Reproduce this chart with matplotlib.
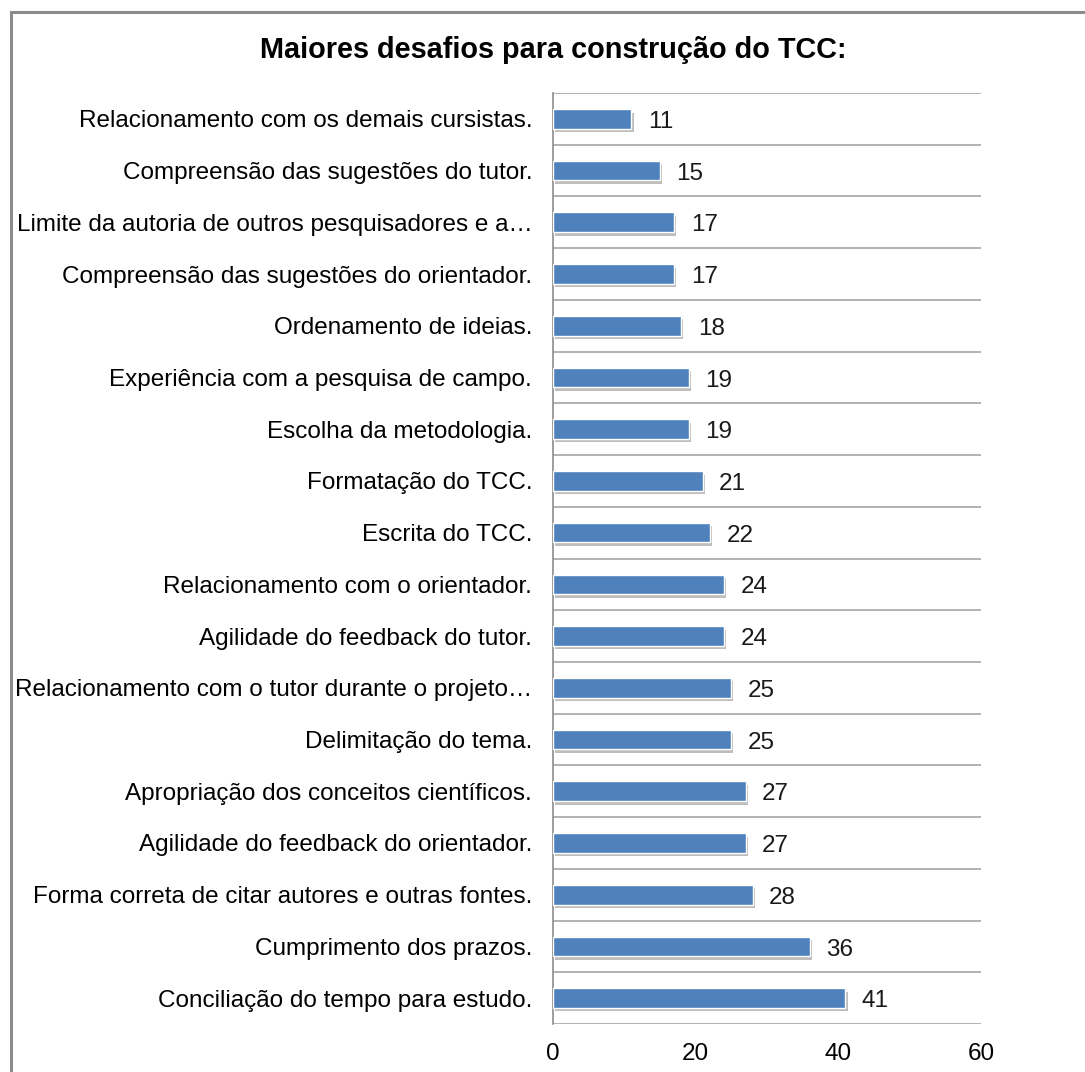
import matplotlib.pyplot as plt
import matplotlib.patheffects as pe
from matplotlib.patches import Rectangle

plt.rcParams['font.family'] = ['Liberation Sans', 'DejaVu Sans']

# categories from top to bottom, as in the picture
categorias = [
    "Relacionamento com os demais cursistas.",
    "Compreensão das sugestões do tutor.",
    "Limite da autoria de outros pesquisadores e a…",
    "Compreensão das sugestões do orientador.",
    "Ordenamento de ideias.",
    "Experiência com a pesquisa de campo.",
    "Escolha da metodologia.",
    "Formatação do TCC.",
    "Escrita do TCC.",
    "Relacionamento com o orientador.",
    "Agilidade do feedback do tutor.",
    "Relacionamento com o tutor durante o projeto…",
    "Delimitação do tema.",
    "Apropriação dos conceitos científicos.",
    "Agilidade do feedback do orientador.",
    "Forma correta de citar autores e outras fontes.",
    "Cumprimento dos prazos.",
    "Conciliação do tempo para estudo.",
]
valores = [11, 15, 17, 17, 18, 19, 19, 21, 22, 24, 24, 25, 25, 27, 27, 28, 36, 41]
xticks = [0, 20, 40, 60]

fig = plt.figure(figsize=(10.85, 10.72), dpi=100)
# outer frame (cropped on right and bottom like the original)
fig.patches.append(Rectangle((11 / 1085, -0.05), 1.2, 1.05 - 12 / 1072,
                             transform=fig.transFigure, fill=False,
                             edgecolor='#8c8c8c', linewidth=2.2))

ax = fig.add_axes([553 / 1085, 1 - 1024 / 1072, (981 - 553) / 1085, (1024 - 93) / 1072])

n = len(categorias)
ypos = list(range(n))[::-1]
bars = ax.barh(ypos, valores, height=0.38, color='#4F81BD', edgecolor='white',
               linewidth=1.0, zorder=3)
for b in bars:
    b.set_path_effects([pe.SimplePatchShadow(offset=(1.5, -2.5), shadow_rgbFace='#8a8a8a', alpha=0.55),
                        pe.Normal()])

for y, v in zip(ypos, valores):
    ax.text(v + 2.3, y - 0.06, str(v), va='center', ha='left', fontsize=17.5, color='#1a1a1a')

ax.set_xlim(0, 60)
ax.set_ylim(-0.5, n - 0.5)
ax.set_xticks(xticks)
ax.set_xticklabels([str(t) for t in xticks], fontsize=17.5)
ax.set_yticks(ypos)
ax.set_yticklabels(categorias, fontsize=17.5)
ax.tick_params(axis='y', length=0, pad=15)
ax.tick_params(axis='x', length=0, pad=14)

# horizontal gridlines at category boundaries
for k in range(n + 1):
    ax.axhline(k - 0.5, color='#a6a6a6', linewidth=1.2, zorder=1)

for s in ['top', 'right', 'bottom']:
    ax.spines[s].set_visible(False)
ax.spines['left'].set_color('#8c8c8c')
ax.spines['left'].set_linewidth(1.2)

fig.text(553 / 1085, 1 - 50 / 1072, "Maiores desafios para construção do TCC:",
         ha='center', va='center', fontsize=20.8, fontweight='bold')

fig.savefig('out.png', dpi=100)
